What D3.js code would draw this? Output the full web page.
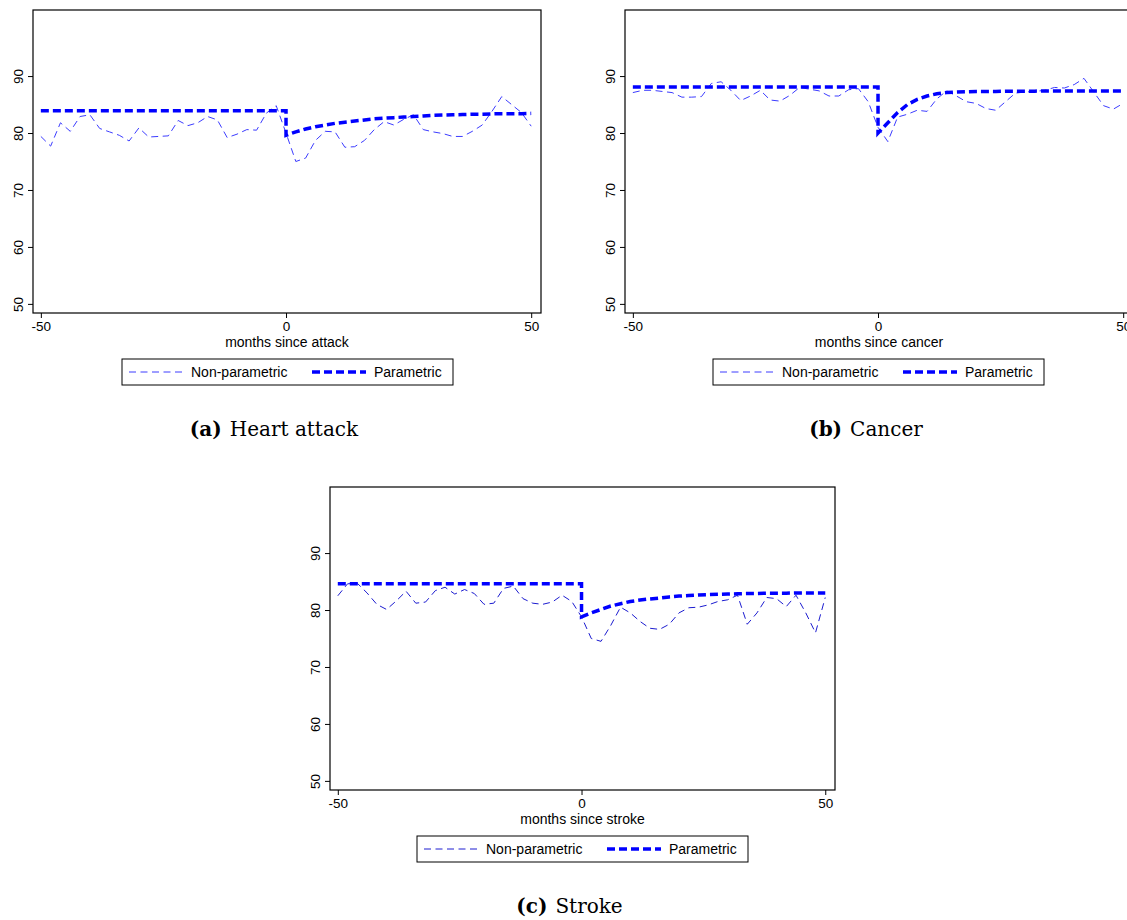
<!DOCTYPE html>
<html>
<head>
<meta charset="utf-8">
<script src="https://cdn.jsdelivr.net/npm/d3@7"></script>
<style>
  body { margin: 0; background: #fff; }
  svg { display: block; }
  text { font-family: "Liberation Sans", Arial, sans-serif; fill: #000; }
  .caption { font-family: "DejaVu Serif", "Liberation Serif", serif; }
</style>
</head>
<body>
<div id="chart"></div>
<script>
/*global d3*/
// months since the event, one point every two months
const months = [-50, -48, -46, -44, -42, -40, -38, -36, -34, -32, -30, -28, -26, -24, -22, -20, -18, -16, -14, -12, -10, -8, -6, -4, -2,
  0, 2, 4, 6, 8, 10, 12, 14, 16, 18, 20, 22, 24, 26, 28, 30, 32, 34, 36, 38, 40, 42, 44, 46, 48, 50];
const postMonths = [0, 2, 4, 6, 8, 10, 12, 14, 16, 18, 20, 22, 24, 26, 28, 30, 32, 34, 36, 38, 40, 42, 44, 46, 48, 50];
const xTicks = [-50, 0, 50];
const yTicks = [50, 60, 70, 80, 90];
const legendLabels = ["Non-parametric", "Parametric"];

// non-parametric estimates
const heartNonpar = [79.4, 77.7, 81.8, 80.3, 82.9, 83.2, 80.8, 80.2, 79.6, 78.6, 80.9, 79.3, 79.4, 79.5, 82.2, 81.3, 81.8, 82.9, 82.3, 79.2, 79.8, 80.6, 80.5, 83.5, 84.8,
  80.0, 75.0, 75.6, 78.7, 80.3, 80.2, 77.5, 77.6, 78.7, 80.6, 82.0, 81.4, 82.4, 83.2, 80.6, 80.2, 79.9, 79.4, 79.4, 80.3, 81.4, 83.8, 86.4, 85.0, 83.6, 81.2];
const cancerNonpar = [87.1, 87.5, 87.5, 87.3, 87.1, 86.3, 86.3, 86.4, 88.7, 89.0, 87.5, 85.7, 86.5, 87.5, 85.8, 85.6, 86.6, 88.0, 87.7, 87.4, 86.5, 86.5, 87.6, 87.8, 85.5,
  81.0, 78.5, 82.8, 83.3, 84.0, 83.8, 86.0, 87.4, 86.5, 85.5, 85.2, 84.3, 84.0, 85.5, 87.0, 87.2, 87.3, 87.5, 88.0, 87.9, 88.5, 89.6, 87.2, 84.8, 84.2, 85.2];
const strokeNonpar = [82.5, 84.6, 84.7, 83.0, 81.0, 80.1, 81.6, 83.3, 81.2, 81.4, 83.4, 84.0, 82.8, 83.6, 82.9, 81.0, 81.2, 83.8, 84.2, 82.0, 81.2, 81.0, 81.4, 82.6, 81.5,
  78.8, 75.0, 74.5, 77.3, 80.5, 79.5, 78.0, 76.8, 76.6, 77.5, 79.5, 80.4, 80.5, 80.9, 81.5, 81.8, 82.6, 77.5, 79.5, 82.2, 82.0, 80.6, 82.6, 79.5, 76.0, 82.2];

// parametric fit: flat level before the event, recovery path after it
const heartPre = 83.9;
const heartPost = [79.6, 80.2, 80.7, 81.1, 81.4, 81.7, 81.9, 82.1, 82.3, 82.5, 82.6, 82.7, 82.8, 82.9, 83.0, 83.1, 83.15, 83.2, 83.25, 83.3, 83.3, 83.35, 83.4, 83.4, 83.4, 83.45];
const cancerPre = 88.1;
const cancerPost = [80.0, 81.8, 83.6, 85.0, 85.9, 86.5, 86.9, 87.1, 87.2, 87.25, 87.3, 87.3, 87.3, 87.35, 87.35, 87.35, 87.35, 87.4, 87.4, 87.4, 87.4, 87.4, 87.4, 87.4, 87.4, 87.4];
const strokePre = 84.6;
const strokePost = [78.8, 79.5, 80.1, 80.7, 81.1, 81.5, 81.75, 81.95, 82.1, 82.3, 82.45, 82.55, 82.65, 82.7, 82.75, 82.8, 82.85, 82.9, 82.9, 82.95, 82.95, 82.95, 83.0, 83.0, 83.0, 83.0];

const H = 303;

const panels = [
  { tag: "(a)", title: "Heart attack", xlabel: "months since attack", nonpar: heartNonpar, pre: heartPre, post: heartPost,
    left: 33, top: 10, width: 508, legendX: 89, npColor: "#3c3cff" },
  { tag: "(b)", title: "Cancer", xlabel: "months since cancer", nonpar: cancerNonpar, pre: cancerPre, post: cancerPost,
    left: 625, top: 10, width: 508, legendX: 88, npColor: "#3c3cff" },
  { tag: "(c)", title: "Stroke", xlabel: "months since stroke", nonpar: strokeNonpar, pre: strokePre, post: strokePost,
    left: 330, top: 487, width: 505, legendX: 87, npColor: "#1c1cd0" }
];

const svg = d3.select("#chart")
  .append("svg")
    .attr("width", 1127)
    .attr("height", 920);

panels.forEach(drawPanel);

function drawPanel(p) {
  const W = p.width;
  const x = d3.scaleLinear().domain([-51.6, 52]).range([0, W]);
  const y = d3.scaleLinear().domain([48.4, 101.6]).range([H, 0]);

  const g = svg.append("g")
    .attr("transform", "translate(" + p.left + "," + p.top + ")");

  g.append("rect")
    .attr("width", W)
    .attr("height", H)
    .attr("fill", "#fff")
    .attr("stroke", "#000")
    .attr("stroke-width", 1.2);

  // x axis, plain hyphen for the minus sign
  const xg = g.append("g")
    .attr("transform", "translate(0," + H + ")")
    .call(d3.axisBottom(x).tickValues(xTicks).tickSize(5).tickPadding(3).tickFormat(function (d) { return String(d); }));
  xg.select(".domain").remove();
  xg.selectAll("text")
    .attr("font-family", "Liberation Sans, Arial, sans-serif")
    .attr("font-size", 13.5);

  // y axis with labels turned on their side
  const yg = g.append("g")
    .call(d3.axisLeft(y).tickValues(yTicks).tickSize(5));
  yg.select(".domain").remove();
  yg.selectAll(".tick text").remove();
  yg.selectAll(".tick")
    .append("text")
      .attr("transform", "translate(-10,0) rotate(-90)")
      .attr("text-anchor", "middle")
      .attr("font-family", "Liberation Sans, Arial, sans-serif")
      .attr("font-size", 13.5)
      .attr("fill", "#000")
      .text(function (d) { return d; });

  g.append("text")
    .attr("x", W / 2)
    .attr("y", H + 34)
    .attr("text-anchor", "middle")
    .attr("font-size", 14)
    .text(p.xlabel);

  const npLine = d3.line()
    .x(function (d, i) { return x(months[i]); })
    .y(function (d) { return y(d); });

  g.append("path")
    .datum(p.nonpar)
    .attr("d", npLine)
    .attr("fill", "none")
    .attr("stroke", p.npColor)
    .attr("stroke-width", 1)
    .attr("stroke-dasharray", "7,4.5");

  const par = [{ m: -50, v: p.pre }, { m: 0, v: p.pre }]
    .concat(p.post.map(function (v, i) { return { m: postMonths[i], v: v }; }));

  g.append("path")
    .datum(par)
    .attr("d", d3.line().x(function (d) { return x(d.m); }).y(function (d) { return y(d.v); }))
    .attr("fill", "none")
    .attr("stroke", "#0000ff")
    .attr("stroke-width", 3.5)
    .attr("stroke-dasharray", "8,4");

  // legend
  const lg = g.append("g")
    .attr("transform", "translate(" + p.legendX + "," + (H + 46) + ")");
  lg.append("rect")
    .attr("width", 331)
    .attr("height", 26)
    .attr("fill", "#fff")
    .attr("stroke", "#000")
    .attr("stroke-width", 1);
  lg.append("line")
    .attr("x1", 7).attr("x2", 60)
    .attr("y1", 13).attr("y2", 13)
    .attr("stroke", p.npColor)
    .attr("stroke-width", 1)
    .attr("stroke-dasharray", "7,4.5");
  lg.append("text")
    .attr("x", 69).attr("y", 18)
    .attr("font-size", 14)
    .text(legendLabels[0]);
  lg.append("line")
    .attr("x1", 190).attr("x2", 244)
    .attr("y1", 13).attr("y2", 13)
    .attr("stroke", "#0000ff")
    .attr("stroke-width", 3.5)
    .attr("stroke-dasharray", "8,4");
  lg.append("text")
    .attr("x", 252).attr("y", 18)
    .attr("font-size", 14)
    .text(legendLabels[1]);

  // sub-figure caption
  const cap = g.append("text")
    .attr("class", "caption")
    .attr("x", W / 2 - 13)
    .attr("y", H + 123)
    .attr("text-anchor", "middle")
    .attr("font-size", 20);
  cap.append("tspan")
    .attr("font-weight", "bold")
    .text(p.tag);
  cap.append("tspan")
    .attr("dx", 8)
    .text(p.title);
}
</script>
</body>
</html>
